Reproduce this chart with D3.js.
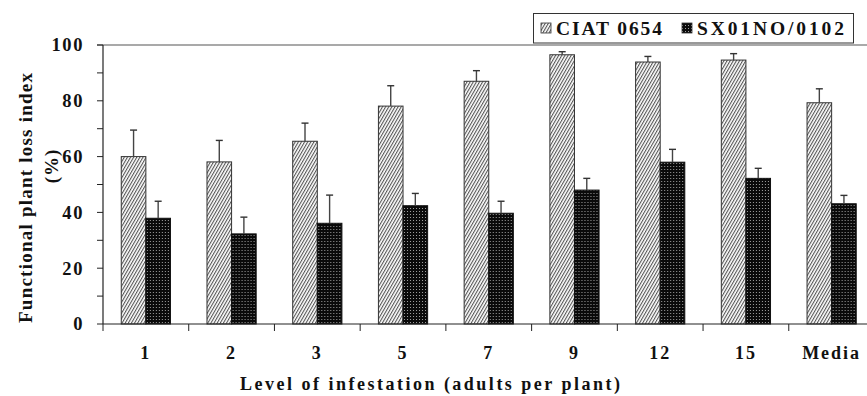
<!DOCTYPE html>
<html>
<head>
<meta charset="utf-8">
<script src="https://cdn.jsdelivr.net/npm/d3@7"></script>
<style>
  html, body { margin: 0; padding: 0; background: #fff; }
  svg { display: block; }
  text { font-family: "Liberation Serif", "Times New Roman", serif; font-weight: bold; fill: #111; }
</style>
</head>
<body>
<svg id="chart" width="867" height="396"></svg>
<script>
// Infestation levels (adults per plant) plus the overall mean
const categories = ["1", "2", "3", "5", "7", "9", "12", "15", "Media"];
const seriesNames = ["CIAT 0654", "SX01NO/0102"];
// Functional plant loss index (%) per variety
const ciatValues = [60, 58.1, 65.5, 78.1, 87, 96.5, 93.9, 94.6, 79.3];
const sxValues   = [37.9, 32.3, 36.1, 42.4, 39.7, 48, 58, 52.2, 43.1];
// Upper end of each error bar (%)
const ciatErrTop = [69.5, 65.8, 72, 85.4, 90.8, 97.6, 95.9, 96.9, 84.3];
const sxErrTop   = [44, 38.3, 46.2, 46.8, 44, 52.2, 62.6, 55.8, 46.1];
const yTicks = [0, 20, 40, 60, 80, 100];
const yMinorTicks = [0, 10, 20, 30, 40, 50, 60, 70, 80, 90, 100];

const svg = d3.select("#chart");
const plotLeft = 103, plotRight = 874.5, plotTop = 45, plotBottom = 324;

const x = d3.scaleBand().domain(categories).range([plotLeft, plotRight]);
const y = d3.scaleLinear().domain([0, 100]).range([plotBottom, plotTop]);
const bw = x.bandwidth() * 0.287;

// Fill patterns: fine diagonal hatch and dark dotted screen
const defs = svg.append("defs");
const hatch = defs.append("pattern").attr("id", "hatch")
  .attr("patternUnits", "userSpaceOnUse").attr("width", 2.7).attr("height", 2.7)
  .attr("patternTransform", "rotate(30)");
hatch.append("rect").attr("width", 2.7).attr("height", 2.7).attr("fill", "#fff");
hatch.append("rect").attr("x", 0).attr("y", 0).attr("width", 1.1).attr("height", 2.7).attr("fill", "#555");

const dots = defs.append("pattern").attr("id", "dots")
  .attr("patternUnits", "userSpaceOnUse").attr("width", 3).attr("height", 3);
dots.append("rect").attr("width", 3).attr("height", 3).attr("fill", "#0a0a0a");
dots.append("rect").attr("x", 1).attr("y", 1).attr("width", 1).attr("height", 1).attr("fill", "#a0a0a0");

// Gridline at 100
svg.append("line").attr("x1", plotLeft - 6).attr("x2", 867)
  .attr("y1", y(100)).attr("y2", y(100)).attr("stroke", "#555").attr("stroke-width", 1.2);

// Y axis
const yAxis = svg.append("g").attr("transform", `translate(${plotLeft},0)`);
yAxis.append("line").attr("x1", 0).attr("x2", 0).attr("y1", y(0)).attr("y2", y(100))
  .attr("stroke", "#222").attr("stroke-width", 1.2);
yAxis.selectAll("line.tick").data(yMinorTicks).join("line").attr("class", "tick")
  .attr("x1", -6).attr("x2", 0).attr("y1", d => y(d)).attr("y2", d => y(d))
  .attr("stroke", "#222").attr("stroke-width", 1);
yAxis.selectAll("text").data(yTicks).join("text")
  .attr("x", -19).attr("y", d => y(d)).attr("dy", "0.35em")
  .attr("text-anchor", "end").attr("font-size", 18.5).attr("letter-spacing", 1.6)
  .text(d => d);

// Bars
const groups = svg.append("g").selectAll("g").data(categories).join("g")
  .attr("transform", d => `translate(${x(d) + x.bandwidth() / 2},0)`);

groups.append("rect")
  .attr("x", -bw).attr("width", bw)
  .attr("y", (d, i) => y(ciatValues[i])).attr("height", (d, i) => y(0) - y(ciatValues[i]))
  .attr("fill", "url(#hatch)").attr("stroke", "#333").attr("stroke-width", 1);
groups.append("rect")
  .attr("x", 0).attr("width", bw)
  .attr("y", (d, i) => y(sxValues[i])).attr("height", (d, i) => y(0) - y(sxValues[i]))
  .attr("fill", "url(#dots)").attr("stroke", "#111").attr("stroke-width", 1);

// Error bars (upper only)
function errBar(sel, cx, vals, tops) {
  sel.append("line").attr("x1", cx).attr("x2", cx)
    .attr("y1", (d, i) => y(vals[i])).attr("y2", (d, i) => y(tops[i]))
    .attr("stroke", "#444").attr("stroke-width", 1.4);
  sel.append("line").attr("x1", cx - 3.5).attr("x2", cx + 3.5)
    .attr("y1", (d, i) => y(tops[i])).attr("y2", (d, i) => y(tops[i]))
    .attr("stroke", "#333").attr("stroke-width", 1.4);
}
errBar(groups, -bw / 2, ciatValues, ciatErrTop);
errBar(groups, bw / 2, sxValues, sxErrTop);

// X axis
svg.append("line").attr("x1", plotLeft).attr("x2", 867).attr("y1", y(0)).attr("y2", y(0))
  .attr("stroke", "#222").attr("stroke-width", 1.2);
svg.append("g").selectAll("line").data(categories).join("line")
  .attr("x1", d => x(d)).attr("x2", d => x(d))
  .attr("y1", y(0)).attr("y2", y(0) + 7).attr("stroke", "#222").attr("stroke-width", 1);
svg.append("g").selectAll("text").data(categories).join("text")
  .attr("x", d => x(d) + x.bandwidth() / 2).attr("y", 359)
  .attr("text-anchor", "middle").attr("font-size", 18).attr("letter-spacing", 2)
  .text(d => d);

// Axis titles
svg.append("text").attr("x", 430).attr("y", 390).attr("text-anchor", "middle")
  .attr("font-size", 18).attr("textLength", 380).attr("lengthAdjust", "spacing")
  .text("Level of infestation (adults per plant)");
const yt = svg.append("g");
yt.append("text").attr("transform", "translate(32,198) rotate(-90)")
  .attr("text-anchor", "middle").attr("font-size", 19)
  .attr("textLength", 250).attr("lengthAdjust", "spacing")
  .text("Functional plant loss index");
yt.append("text").attr("transform", "translate(58,166) rotate(-90)")
  .attr("text-anchor", "middle").attr("font-size", 19).attr("letter-spacing", 1)
  .text("(%)");

// Legend
const lg = svg.append("g");
lg.append("rect").attr("x", 533.5).attr("y", 13.5).attr("width", 320).attr("height", 29.5)
  .attr("fill", "#fff").attr("stroke", "#333").attr("stroke-width", 1);
const lx = [541, 682];
const lw = [106, 147];
const fills = ["url(#hatch)", "url(#dots)"];
seriesNames.forEach((name, i) => {
  lg.append("rect").attr("x", lx[i]).attr("y", 23).attr("width", 10).attr("height", 10)
    .attr("fill", fills[i]).attr("stroke", "#333").attr("stroke-width", 0.8);
  lg.append("text").attr("x", lx[i] + 15).attr("y", 35)
    .attr("font-size", 19.5).attr("textLength", lw[i]).attr("lengthAdjust", "spacing")
    .text(name);
});
</script>
</body>
</html>
